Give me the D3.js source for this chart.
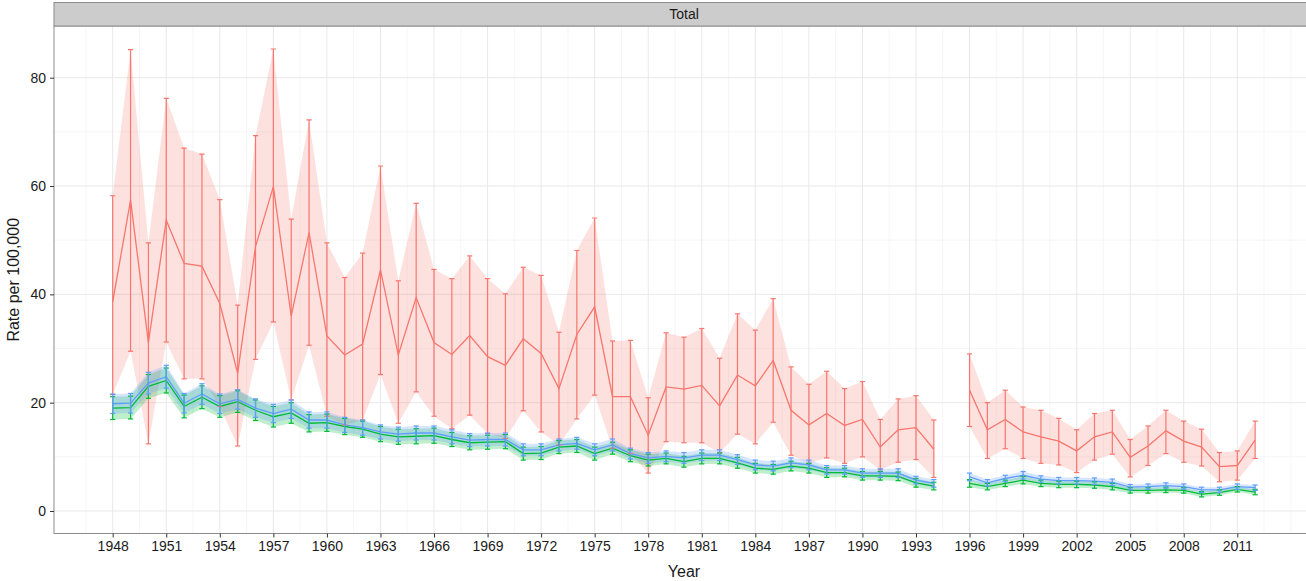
<!DOCTYPE html>
<html>
<head>
<meta charset="utf-8">
<script src="https://cdn.jsdelivr.net/npm/d3@7"></script>
<style>
  html, body { margin: 0; padding: 0; background: #ffffff; overflow: hidden; }
  svg { display: block; font-family: "Liberation Sans", Arial, sans-serif; }
</style>
</head>
<body>
<svg id="chart" width="1306" height="581"></svg>
<script>
// ---------------- DATA ----------------
const years = [1948,1949,1950,1951,1952,1953,1954,1955,1956,1957,1958,1959,1960,1961,1962,1963,1964,1965,1966,1967,1968,1969,1970,1971,1972,1973,1974,1975,1976,1977,1978,1979,1980,1981,1982,1983,1984,1985,1986,1987,1988,1989,1990,1991,1992,1993,1994,
               1996,1997,1998,1999,2000,2001,2002,2003,2004,2005,2006,2007,2008,2009,2010,2011,2012];

const redMid = [38.6,57.4,31.1,53.7,45.7,45.2,38.3,25.4,48.8,59.9,36.0,51.4,32.3,28.8,30.8,44.5,28.8,39.4,31.1,28.9,32.4,28.5,26.9,31.8,29.1,22.6,32.6,37.7,21.1,21.1,14.0,22.9,22.5,23.2,19.4,25.1,23.1,27.8,18.6,15.9,18.0,15.8,16.9,11.8,15.0,15.4,11.4,
                22.3,15.0,16.9,14.6,13.7,12.9,11.1,13.7,14.6,9.9,12.0,14.8,12.9,11.8,8.2,8.4,13.1];
const redHigh = [58.2,85.2,49.5,76.2,67.0,65.9,57.5,38.0,69.3,85.3,53.9,72.2,49.5,43.1,47.6,63.7,42.5,56.8,44.6,42.9,47.1,42.9,40.1,45.0,43.5,33.0,48.1,54.1,31.4,31.5,20.9,32.9,32.1,33.7,28.2,36.4,33.4,39.2,26.6,23.4,25.8,22.6,23.9,16.9,20.7,21.3,16.8,
                 29.0,20.0,22.3,19.2,18.6,17.1,15.0,18.0,18.6,13.2,15.7,18.6,16.6,15.1,10.8,11.1,16.6];
const redLow = [21.5,29.5,12.4,31.2,24.4,24.4,19.3,12.0,28.0,34.9,20.5,30.6,17.5,15.9,16.8,25.2,16.2,22.0,17.5,15.2,17.7,14.3,13.4,18.5,14.6,12.2,17.0,21.4,11.6,10.6,7.0,12.8,12.6,12.6,10.8,14.2,12.4,16.4,10.3,8.8,9.8,8.8,10.0,7.6,9.0,9.5,6.2,
                15.6,9.7,11.5,9.7,8.8,8.5,7.1,9.4,10.5,6.3,8.4,10.6,9.0,8.3,5.4,5.7,9.7];

const greenMid = [19.0,19.1,23.0,24.1,19.3,21.0,19.3,20.2,18.6,17.4,18.1,16.2,16.3,15.6,15.1,14.2,13.7,13.8,13.9,13.2,12.6,12.7,12.8,10.6,10.7,11.8,12.0,10.6,11.6,10.2,9.4,9.7,9.1,9.7,9.7,8.9,7.9,7.7,8.3,7.9,7.1,7.1,6.5,6.5,6.4,5.2,4.6,
                  5.1,4.5,5.1,5.7,5.1,4.9,4.9,4.8,4.5,3.8,3.8,3.9,3.8,3.1,3.4,4.0,3.5];
const greenErr = [2.1,2.1,2.2,2.3,2.1,2.1,2.0,2.0,1.9,1.9,1.9,1.6,1.6,1.5,1.5,1.4,1.4,1.4,1.4,1.3,1.3,1.3,1.3,1.2,1.2,1.2,1.2,1.2,1.1,1.1,1.1,1.0,1.0,1.0,1.0,1.0,0.9,0.9,0.9,0.9,0.9,0.8,0.8,0.8,0.8,0.8,0.7,
                  0.7,0.6,0.6,0.7,0.6,0.6,0.6,0.6,0.6,0.5,0.5,0.5,0.5,0.5,0.5,0.5,0.5];

const blueMid = [19.8,19.9,23.6,24.8,19.9,21.6,19.8,20.6,19.0,18.0,18.8,16.8,16.8,15.9,15.4,14.6,14.2,14.4,14.4,13.7,13.1,13.2,13.2,11.3,11.3,12.2,12.5,11.3,12.2,10.6,9.8,10.1,9.8,10.3,10.3,9.5,8.5,8.3,8.9,8.5,7.6,7.6,7.0,7.0,7.0,5.7,5.1,
                 6.3,5.2,6.0,6.6,5.9,5.6,5.6,5.5,5.3,4.4,4.5,4.7,4.5,3.9,3.9,4.5,4.3];
const blueErr = [1.8,1.8,2.0,2.1,1.8,1.9,1.8,1.8,1.7,1.7,1.7,1.5,1.5,1.4,1.4,1.3,1.3,1.3,1.3,1.3,1.2,1.2,1.2,1.1,1.1,1.1,1.1,1.1,1.1,1.0,1.0,1.0,1.0,1.0,1.0,0.9,0.9,0.9,0.9,0.9,0.8,0.8,0.8,0.8,0.8,0.7,0.7,
                 0.7,0.6,0.6,0.7,0.6,0.6,0.6,0.6,0.6,0.5,0.5,0.5,0.5,0.5,0.5,0.5,0.5];

const xTicks = [1948,1951,1954,1957,1960,1963,1966,1969,1972,1975,1978,1981,1984,1987,1990,1993,1996,1999,2002,2005,2008,2011];
const xMinor = [1946.5,1949.5,1952.5,1955.5,1958.5,1961.5,1964.5,1967.5,1970.5,1973.5,1976.5,1979.5,1982.5,1985.5,1988.5,1991.5,1994.5,1997.5,2000.5,2003.5,2006.5,2009.5,2012.5,2014];
const yTicks = [0,20,40,60,80];
const yMinor = [10,30,50,70];
const stripLabel = "Total";
const xTitle = "Year";
const yTitle = "Rate per 100,000";

const seriesColors = { red: "#F8766D", green: "#00BA38", blue: "#619CFF" };

// ---------------- LAYOUT ----------------
const svg = d3.select("#chart");
const panel = { left: 54, right: 1314, top: 26, bottom: 533.5 };
const strip = { top: 2.5, bottom: 26 };

const x = d3.scaleLinear().domain([1948, 2011]).range([112.7, 1237.3]);
const y = d3.scaleLinear().domain([0, 80]).range([511, 77.7]);

function makeSeries(mid, lo, hi) {
  return years.map((yr, i) => ({ year: yr, mid: mid[i], lo: lo[i], hi: hi[i] }));
}
const red = makeSeries(redMid, redLow, redHigh);
const green = makeSeries(greenMid, greenMid.map((v, i) => v - greenErr[i]), greenMid.map((v, i) => v + greenErr[i]));
const blue = makeSeries(blueMid, blueMid.map((v, i) => v - blueErr[i]), blueMid.map((v, i) => v + blueErr[i]));

function segments(data) {
  const segs = [];
  let cur = [];
  data.forEach((d, i) => {
    if (i > 0 && d.year - data[i - 1].year > 1) { segs.push(cur); cur = []; }
    cur.push(d);
  });
  if (cur.length) segs.push(cur);
  return segs;
}

svg.append("rect")
  .attr("x", panel.left).attr("y", panel.top)
  .attr("width", panel.right - panel.left).attr("height", panel.bottom - panel.top)
  .attr("fill", "#ffffff");

svg.append("clipPath").attr("id", "pclip").append("rect")
  .attr("x", panel.left).attr("y", panel.top)
  .attr("width", panel.right - panel.left).attr("height", panel.bottom - panel.top);

const g = svg.append("g").attr("clip-path", "url(#pclip)");

// grid
g.selectAll(".ymin").data(yMinor).enter().append("line")
  .attr("x1", panel.left).attr("x2", panel.right)
  .attr("y1", d => y(d)).attr("y2", d => y(d))
  .attr("stroke", "#F4F4F4").attr("stroke-width", 0.8);
g.selectAll(".xmin").data(xMinor).enter().append("line")
  .attr("y1", panel.top).attr("y2", panel.bottom)
  .attr("x1", d => x(d)).attr("x2", d => x(d))
  .attr("stroke", "#F4F4F4").attr("stroke-width", 0.8);
g.selectAll(".ymaj").data(yTicks).enter().append("line")
  .attr("x1", panel.left).attr("x2", panel.right)
  .attr("y1", d => y(d)).attr("y2", d => y(d))
  .attr("stroke", "#E8E8E8").attr("stroke-width", 1);
g.selectAll(".xmaj").data(xTicks).enter().append("line")
  .attr("y1", panel.top).attr("y2", panel.bottom)
  .attr("x1", d => x(d)).attr("x2", d => x(d))
  .attr("stroke", "#E8E8E8").attr("stroke-width", 1);

const area = d3.area().x(d => x(d.year)).y0(d => y(d.lo)).y1(d => y(d.hi));
const line = d3.line().x(d => x(d.year)).y(d => y(d.mid));

const all = [
  { data: red, color: seriesColors.red, alpha: 0.22 },
  { data: green, color: seriesColors.green, alpha: 0.25 },
  { data: blue, color: seriesColors.blue, alpha: 0.25 }
];

all.forEach(s => {
  segments(s.data).forEach(seg => {
    g.append("path").attr("d", area(seg))
      .attr("fill", s.color).attr("fill-opacity", s.alpha).attr("stroke", "none");
  });
});
all.forEach(s => {
  segments(s.data).forEach(seg => {
    g.append("path").attr("d", line(seg))
      .attr("fill", "none").attr("stroke", s.color).attr("stroke-width", 1.3);
  });
});
const capHalf = 2.6;
all.forEach(s => {
  const eb = g.append("g").attr("stroke", s.color).attr("stroke-width", 1.2).attr("fill", "none");
  eb.selectAll("line.v").data(s.data).enter().append("line")
    .attr("x1", d => x(d.year)).attr("x2", d => x(d.year))
    .attr("y1", d => y(d.lo)).attr("y2", d => y(d.hi));
  eb.selectAll("line.t").data(s.data).enter().append("line")
    .attr("x1", d => x(d.year) - capHalf).attr("x2", d => x(d.year) + capHalf)
    .attr("y1", d => y(d.hi)).attr("y2", d => y(d.hi));
  eb.selectAll("line.b").data(s.data).enter().append("line")
    .attr("x1", d => x(d.year) - capHalf).attr("x2", d => x(d.year) + capHalf)
    .attr("y1", d => y(d.lo)).attr("y2", d => y(d.lo));
});

svg.append("rect")
  .attr("x", panel.left).attr("y", panel.top)
  .attr("width", panel.right - panel.left).attr("height", panel.bottom - panel.top)
  .attr("fill", "none").attr("stroke", "#8c8c8c").attr("stroke-width", 1);

svg.append("rect")
  .attr("x", panel.left).attr("y", strip.top)
  .attr("width", panel.right - panel.left).attr("height", strip.bottom - strip.top)
  .attr("fill", "#CCCCCC").attr("stroke", "#8c8c8c").attr("stroke-width", 1);
svg.append("text")
  .attr("x", (panel.left + panel.right) / 2).attr("y", (strip.top + strip.bottom) / 2)
  .attr("dy", "0.35em").attr("text-anchor", "middle")
  .attr("font-size", 14).attr("fill", "#1a1a1a").text(stripLabel);

const xAxis = d3.axisBottom(x).tickValues(xTicks).tickFormat(d3.format("d")).tickSize(4).tickPadding(4);
const xg = svg.append("g").attr("transform", `translate(0,${panel.bottom})`).call(xAxis);
xg.select(".domain").remove();
xg.selectAll(".tick line").attr("stroke", "#333").attr("stroke-width", 1);
xg.selectAll(".tick text").attr("font-size", 14).attr("fill", "#1a1a1a")
  .attr("font-family", "Liberation Sans, Arial, sans-serif");

const yAxis = d3.axisLeft(y).tickValues(yTicks).tickSize(4).tickPadding(4);
const yg = svg.append("g").attr("transform", `translate(${panel.left},0)`).call(yAxis);
yg.select(".domain").remove();
yg.selectAll(".tick line").attr("stroke", "#333").attr("stroke-width", 1);
yg.selectAll(".tick text").attr("font-size", 14).attr("fill", "#1a1a1a")
  .attr("font-family", "Liberation Sans, Arial, sans-serif");

svg.append("text")
  .attr("x", (panel.left + panel.right) / 2).attr("y", 577)
  .attr("text-anchor", "middle").attr("font-size", 16).attr("fill", "#1a1a1a").text(xTitle);
svg.append("text")
  .attr("transform", `translate(19,${(panel.top + panel.bottom) / 2}) rotate(-90)`)
  .attr("text-anchor", "middle").attr("font-size", 16).attr("fill", "#1a1a1a").text(yTitle);
</script>
</body>
</html>
